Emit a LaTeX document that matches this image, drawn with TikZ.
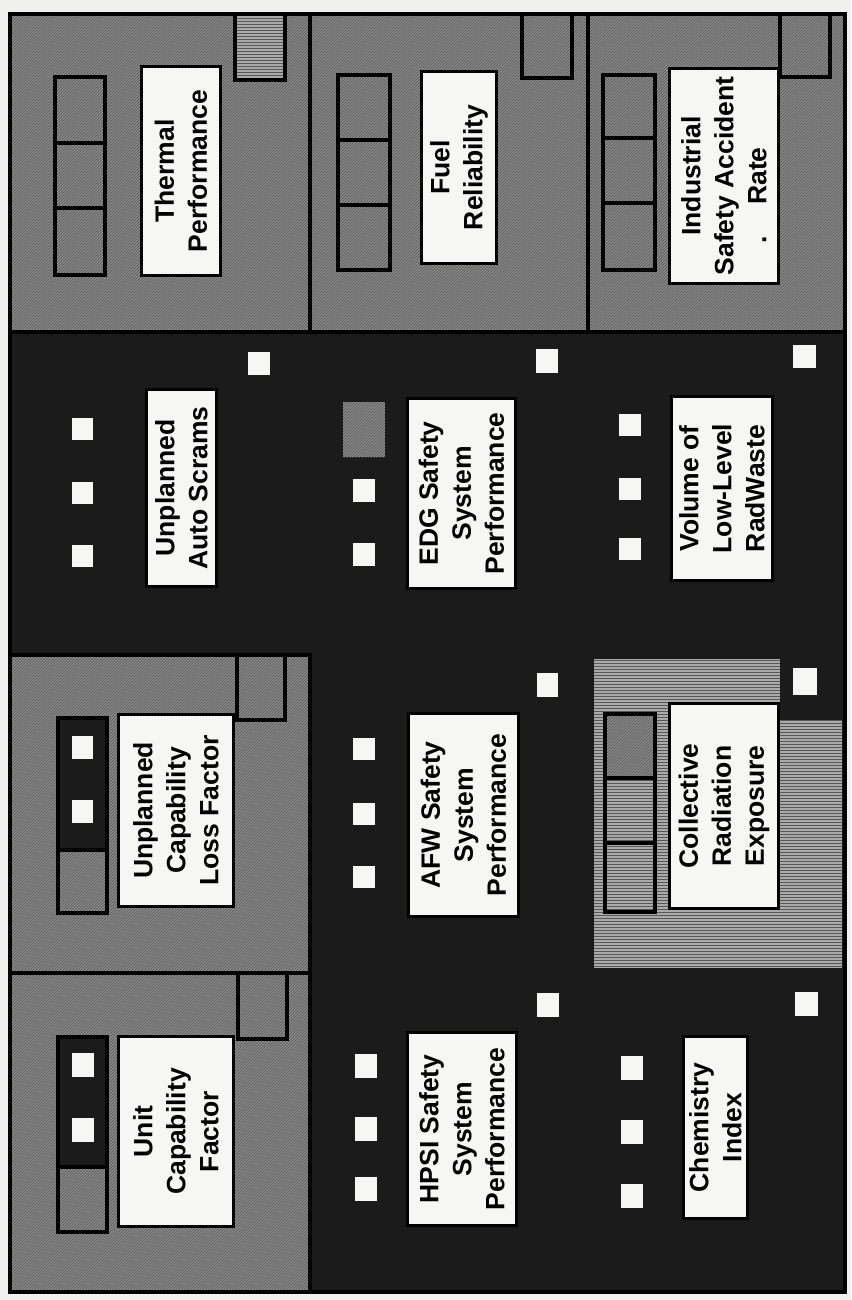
\documentclass[tikz,border=0pt]{standalone}
\usepackage{fontspec}
\setmainfont{Liberation Sans}
\usetikzlibrary{patterns}
\definecolor{panelgray}{RGB}{138,138,138}
\definecolor{hatchink}{RGB}{88,88,88}
\definecolor{stripegray}{RGB}{170,170,170}
\definecolor{darkbg}{RGB}{27,27,27}
\definecolor{paper}{RGB}{240,240,238}
\definecolor{cardwhite}{RGB}{246,246,244}

\begin{document}
\begin{tikzpicture}[x=1pt,y=-1pt,
  gcell/.style={fill=panelgray,postaction={pattern=north east lines,pattern color=hatchink}},
  scell/.style={fill=stripegray,postaction={pattern=horizontal lines,pattern color=hatchink}},
  edge/.style={postaction={draw=black,line width=4pt}},
  lbl/.style={draw=black,line width=3.5pt,fill=cardwhite,rotate=90,align=center,inner sep=0pt,
    font=\fontsize{26.5}{33}\selectfont\bfseries},
  wsq/.style={fill=cardwhite}]
\useasboundingbox (0,0) rectangle (851,1300);
\fill[paper] (0,0) rectangle (851,1300);
% dark field
\fill[darkbg] (10,14) rectangle (845,1292);
% gray panels
\path[gcell,edge] (10,14) rectangle (310,332);
\path[gcell,edge] (310,14) rectangle (588,332);
\path[gcell,edge] (588,14) rectangle (845,332);
\path[gcell,edge] (10,655) rectangle (310,973);
\path[gcell,edge] (10,973) rectangle (310,1292);
% striped panel with dark notch
\path[scell] (594,659) rectangle (842,968);
\fill[darkbg] (780,656) rectangle (845,720);
% corner squares
\path[scell,edge] (235,14) rectangle (285,80);
\path[gcell,edge] (522,14) rectangle (572,78);
\path[gcell,edge] (780,14) rectangle (830,77);
\path[gcell,edge] (237,655) rectangle (285,720);
\path[gcell,edge] (238,973) rectangle (287,1039);
% indicator strips, gray panels
\path[edge] (55,77) rectangle (105,275) (55,143) -- (105,143) (55,208) -- (105,208);
\path[edge] (338,75) rectangle (390,270) (338,140) -- (390,140) (338,205) -- (390,205);
\path[edge] (603,75) rectangle (655,270) (603,138) -- (655,138) (603,203) -- (655,203);
\fill[darkbg] (58,718) rectangle (107,850);
\path[edge] (58,718) rectangle (107,913) (58,850) -- (107,850);
\fill[darkbg] (58,1037) rectangle (107,1167);
\path[edge] (58,1037) rectangle (107,1232) (58,1167) -- (107,1167);
\foreach \y in {736,800} \fill[wsq] (72,\y) rectangle ++(21,23);
\foreach \y in {1053,1118} \fill[wsq] (72,\y) rectangle ++(22,24);
\path[gcell] (605,714) rectangle (655,778);
\path[scell] (605,778) rectangle (655,912);
\path[edge] (605,714) rectangle (655,912) (605,778) -- (655,778) (605,843) -- (655,843);
% white squares, dark panels
\foreach \y in {418,482,545} \fill[wsq] (72,\y) rectangle ++(21,22);
\path[gcell] (343,402) rectangle (385,457);
\foreach \y in {479,543} \fill[wsq] (353,\y) rectangle ++(22,23);
\foreach \y in {414,478,538} \fill[wsq] (619,\y) rectangle ++(22,22);
\foreach \y in {738,803,866} \fill[wsq] (353,\y) rectangle ++(22,22);
\foreach \y in {1054,1117,1177} \fill[wsq] (355,\y) rectangle ++(22,24);
\foreach \y in {1056,1120,1184} \fill[wsq] (621,\y) rectangle ++(22,24);
\fill[wsq] (248,352) rectangle ++(22,23);
\fill[wsq] (536,349) rectangle ++(22,24);
\fill[wsq] (793,345) rectangle ++(23,23);
\fill[wsq] (537,673) rectangle ++(21,24);
\fill[wsq] (793,668) rectangle ++(24,27);
\fill[wsq] (537,993) rectangle ++(22,24);
\fill[wsq] (795,992) rectangle ++(23,24);
% labels
\node[lbl,minimum width=209pt,minimum height=79pt] (thermal) at (181,171) {Thermal\\Performance};
\node[lbl,minimum width=192pt,minimum height=75pt] (fuel) at (459,167.5) {Fuel\\Reliability};
\node[lbl,minimum width=215pt,minimum height=109pt] (safety) at (724,176)
  {Industrial\\Safety Accident\\\llap{.\hspace{1.2em}}Rate};
\node[lbl,minimum width=197pt,minimum height=70pt] (scrams) at (181.5,488) {Unplanned\\Auto Scrams};
\node[lbl,minimum width=190pt,minimum height=108pt] (edg) at (461.5,493.5) {EDG Safety\\System\\Performance};
\node[lbl,minimum width=184pt,minimum height=101pt] (radwaste) at (722,488.5) {Volume of\\Low-Level\\RadWaste};
\node[lbl,minimum width=192pt,minimum height=115pt] (uclf) at (176,810.5) {Unplanned\\Capability\\Loss Factor};
\node[lbl,minimum width=190pt,minimum height=115pt] (ucf) at (176,1131.5) {Unit\\Capability\\Factor};
\node[lbl,minimum width=203pt,minimum height=110pt] (afw) at (463.5,815) {AFW Safety\\System\\Performance};
\node[lbl,minimum width=205pt,minimum height=109pt] (dose) at (724,806) {Collective\\Radiation\\Exposure};
\node[lbl,minimum width=193pt,minimum height=109pt] (hpsi) at (462,1129) {HPSI Safety\\System\\Performance};
\node[lbl,minimum width=182pt,minimum height=64pt] (chem) at (715.5,1127.5) {Chemistry\\Index};
% outer frame
\path[edge] (10,14) rectangle (845,1292);
\end{tikzpicture}
\end{document}
